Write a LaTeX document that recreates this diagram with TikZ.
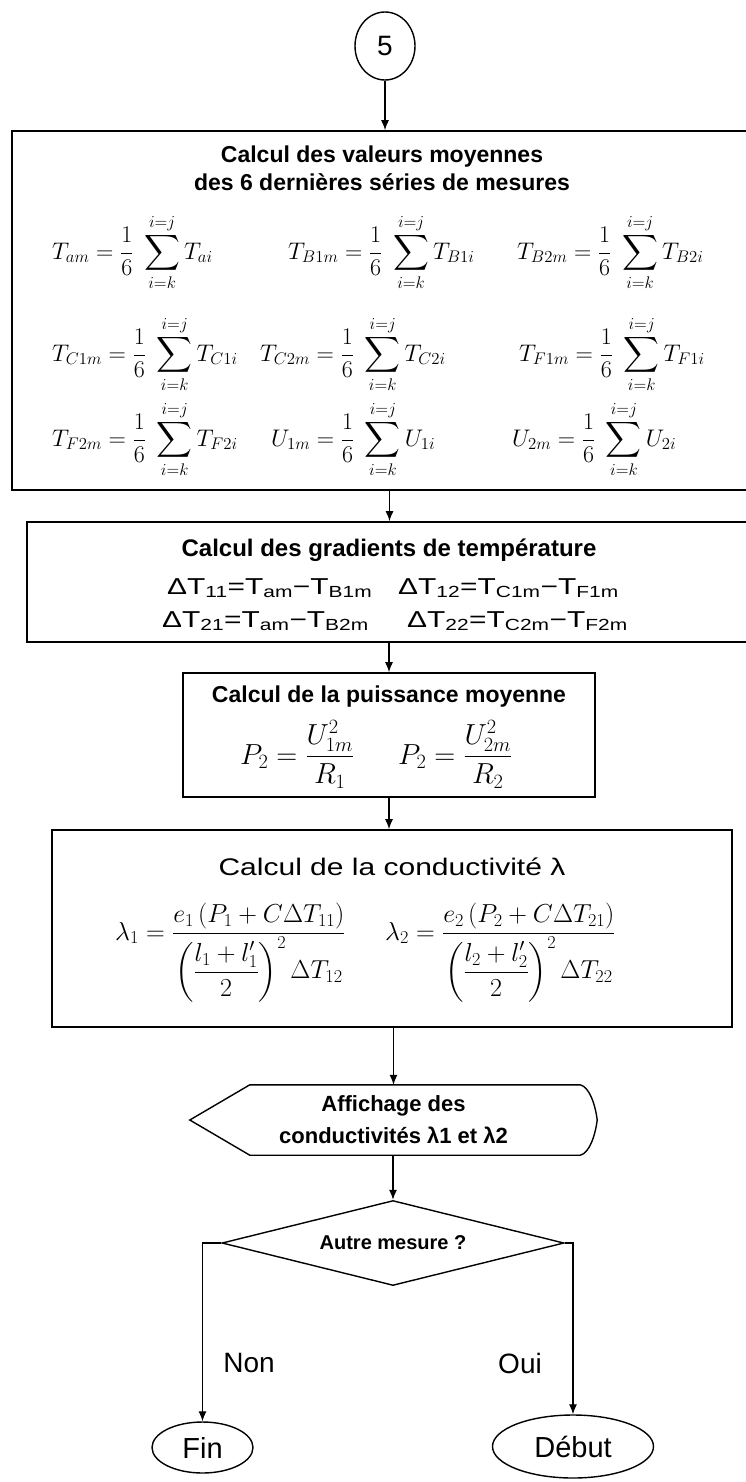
\RequirePackage{fix-cm}
\documentclass[tikz,border=0pt]{standalone}
\usepackage[no-math]{fontspec}
\setmainfont{Liberation Sans}
\newfontfamily\widefont[FakeStretch=1.25]{Liberation Sans}
\newfontfamily\widerfont[FakeStretch=1.3]{Liberation Sans}
\usepackage{amsmath}
\usetikzlibrary{shapes.geometric,arrows.meta,calc}
\newcommand{\moy}[3]{$\displaystyle #1_{#2m}=\frac{1}{6}\;\sum_{i=k}^{i=j}#1_{#2i}$}
\begin{document}
\begin{tikzpicture}[x=1pt,y=-1pt,
  box/.style={draw, line width=1.6pt, inner sep=0pt},
  arr/.style={line width=1.3pt, -{Latex[length=10pt,width=8pt]}},
  ttl/.style={font=\bfseries\fontsize{23}{25}\selectfont, inner sep=0pt},
  mth/.style={font=\fontsize{24}{28}\selectfont, inner sep=0pt, anchor=base west},
  dtx/.style={font=\widerfont\fontsize{23}{25}\selectfont, inner sep=0pt, anchor=base west},
  lbl/.style={font=\fontsize{28}{30}\selectfont, inner sep=0pt},
  term/.style={ellipse, draw, line width=1.4pt, inner sep=0pt},
]
\clip (0,0) rectangle (746,1482);

% connector 5
\node[term, minimum width=60pt, minimum height=68pt] (c5) at (385,46) {\fontsize{28}{28}\selectfont 5};

% box 1
\node[box, minimum width=740pt, minimum height=359pt] (b1) at (382,310.5) {};
\node[ttl] (t1a) at (382,157) {Calcul des valeurs moyennes};
\node[ttl] (t1b) at (382,182) {des 6 dernières séries de mesures};
\node[mth] (f11) at (52,259)  {\moy{T}{a}{}};
\node[mth] (f12) at (288,259) {\moy{T}{B1}{}};
\node[mth] (f13) at (517,259) {\moy{T}{B2}{}};
\node[mth] (f21) at (52,361)  {\moy{T}{C1}{}};
\node[mth] (f22) at (260,361) {\moy{T}{C2}{}};
\node[mth] (f23) at (519,361) {\moy{T}{F1}{}};
\node[mth] (f31) at (52,446)  {\moy{T}{F2}{}};
\node[mth] (f32) at (271,446) {\moy{U}{1}{}};
\node[mth] (f33) at (512,446) {\moy{U}{2}{}};

% box 2
\node[box, minimum width=725pt, minimum height=120pt] (b2) at (389.5,582) {};
\node[ttl, font=\bfseries\fontsize{24}{26}\selectfont] (t2) at (389,550) {Calcul des gradients de température};
\node[dtx] (g1) at (167,594) {ΔT\textsubscript{11}=T\textsubscript{am}−T\textsubscript{B1m}};
\node[dtx] (g2) at (398,594) {ΔT\textsubscript{12}=T\textsubscript{C1m}−T\textsubscript{F1m}};
\node[dtx] (g3) at (162,627) {ΔT\textsubscript{21}=T\textsubscript{am}−T\textsubscript{B2m}};
\node[dtx] (g4) at (407,627) {ΔT\textsubscript{22}=T\textsubscript{C2m}−T\textsubscript{F2m}};

% box 3
\node[box, minimum width=412pt, minimum height=124pt] (b3) at (389,735) {};
\node[ttl] (t3) at (389,697) {Calcul de la puissance moyenne};
\node[mth, font=\fontsize{29}{32}\selectfont] (p1) at (240,764) {$\displaystyle P_2=\frac{U_{1m}^{2}}{R_1}$};
\node[mth, font=\fontsize{29}{32}\selectfont] (p2) at (398,764) {$\displaystyle P_2=\frac{U_{2m}^{2}}{R_2}$};

% box 4
\node[box, minimum width=680pt, minimum height=197pt] (b4) at (392,928.5) {};
\node[font=\widefont\fontsize{24}{26}\selectfont, inner sep=0pt] (t4) at (392,867) {Calcul de la conductivité λ};
\node[mth, font=\fontsize{26}{28}\selectfont] (l1) at (115,940) {$\displaystyle \lambda_1=\frac{e_1\left(P_1+C\Delta T_{11}\right)}{\left(\dfrac{l_1+l_1'}{2}\right)^{2}\Delta T_{12}}$};
\node[mth, font=\fontsize{26}{28}\selectfont] (l2) at (385,940) {$\displaystyle \lambda_2=\frac{e_2\left(P_2+C\Delta T_{21}\right)}{\left(\dfrac{l_2+l_2'}{2}\right)^{2}\Delta T_{22}}$};

% display
\node[minimum width=407pt, minimum height=70pt, inner sep=0pt, align=center,
      font=\bfseries\fontsize{22}{32}\selectfont] (disp) at (393.5,1120)
      {Affichage des\\conductivités λ1 et λ2};
\draw[line width=1.4pt] (disp.west) -- ($(disp.north west)+(60,0)$)
  -- ($(disp.north east)+(-17,0)$)
  .. controls ($(disp.north east)+(-8,2)$) and ($(disp.east)+(-2,-16)$) .. (disp.east)
  .. controls ($(disp.east)+(-2,16)$) and ($(disp.south east)+(-8,-2)$) .. ($(disp.south east)+(-17,0)$)
  -- ($(disp.south west)+(60,0)$) -- cycle;

% decision
\node[diamond, draw, line width=1.4pt, minimum width=342pt, minimum height=85pt,
      inner sep=0pt, aspect=4, font=\bfseries\fontsize{20}{20}\selectfont] (dec) at (393,1243) {Autre mesure ?};

% terminals
\node[term, minimum width=101pt, minimum height=51pt, font=\fontsize{29}{30}\selectfont] (fin) at (202.5,1447.5) {Fin};
\node[term, minimum width=161pt, minimum height=63pt, font=\fontsize{29}{30}\selectfont] (deb) at (573,1446.5) {Début};

\node[lbl] (non) at (249,1363) {Non};
\node[lbl] (oui) at (520,1363) {Oui};

% connectors
\draw[arr] (c5.south) -- (c5.south |- b1.north);
\draw[arr] (b1.south -| b2.north) -- (b2.north);
\draw[arr] (b2.south -| b3.north) -- (b3.north);
\draw[arr] (b3.south) -- (b3.south |- b4.north);
\draw[arr] (b4.south -| disp.north) -- (disp.north);
\draw[arr] (disp.south) -- (disp.south -| dec.north) -- (dec.north);
\draw[arr] (dec.west) -| (fin.north);
\draw[arr] (dec.east) -| (deb.north);
\end{tikzpicture}
\end{document}
